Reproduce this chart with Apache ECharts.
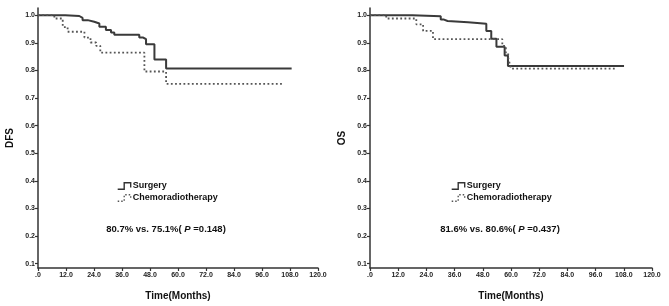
<!DOCTYPE html>
<html>
<head>
<meta charset="utf-8">
<script src="https://cdn.jsdelivr.net/npm/echarts@6/dist/echarts.min.js"></script>
<style>
  html, body { margin: 0; padding: 0; background: #fff; }
  #main { width: 669px; height: 306px; }
</style>
</head>
<body>
<div id="main"></div>
<script>
// tick values on the survival axis
const yTicks = [0.1, 0.2, 0.3, 0.4, 0.5, 0.6, 0.7, 0.8, 0.9, 1.0]
const seriesNames = ['Surgery', 'Chemoradiotherapy']

// DFS (months, cumulative survival)
const dfsSurgeryT = [0, 11.7, 17.7, 19.1, 21.3, 24.1, 26.3, 29.1, 31.3, 32.7, 43.4, 45.1, 46.3, 49.9, 54.9, 108.7]
const dfsSurgeryS = [1, 0.997, 0.990, 0.982, 0.976, 0.970, 0.958, 0.946, 0.937, 0.929, 0.919, 0.913, 0.895, 0.839, 0.807, 0.807]
const dfsChemoT = [0, 7.0, 10.6, 12.7, 19.9, 22.5, 24.9, 26.7, 45.6, 54.9, 105.1]
const dfsChemoS = [1, 0.988, 0.957, 0.940, 0.919, 0.901, 0.889, 0.864, 0.796, 0.751, 0.751]

// OS
const osSurgeryT = [0, 18.0, 30.1, 31.5, 33.0, 41.7, 49.5, 51.6, 53.8, 57.3, 58.7, 108.1]
const osSurgeryS = [1, 0.996, 0.984, 0.979, 0.974, 0.969, 0.943, 0.915, 0.886, 0.854, 0.816, 0.816]
const osChemoT = [0, 6.9, 19.7, 22.6, 26.8, 56.3, 57.8, 58.8, 59.4, 60.0, 105.0]
const osChemoS = [1, 0.988, 0.967, 0.943, 0.913, 0.889, 0.865, 0.845, 0.826, 0.806, 0.806]

const dfsNote = '80.7% vs. 75.1%( {i|P} =0.148)'
const osNote = '81.6% vs. 80.6%( {i|P} =0.437)'

const font = "'Liberation Sans', Arial, sans-serif"
const ink = '#333'

function pairs(t, s) {
  return t.map((v, i) => [v, s[i]])
}

function xAxisOpt(idx) {
  return {
    type: 'value',
    gridIndex: idx,
    min: 0,
    max: 120,
    interval: 12,
    name: 'Time(Months)',
    nameLocation: 'middle',
    nameGap: 23,
    nameTextStyle: { color: '#111', fontWeight: 'bold', fontSize: 10, fontFamily: font },
    axisLine: { lineStyle: { color: ink, width: 1.5 } },
    axisTick: { length: 3, lineStyle: { color: ink, width: 1.2 } },
    axisLabel: {
      color: '#222',
      fontSize: 7,
      fontWeight: 'bold',
      fontFamily: font,
      margin: 4,
      formatter: v => (v === 0 ? '.0' : v.toFixed(1))
    },
    splitLine: { show: false }
  }
}

function yAxisOpt(idx, name) {
  return {
    type: 'value',
    gridIndex: idx,
    min: 0.084,
    max: 1.026,
    name: name,
    nameLocation: 'middle',
    nameGap: 23,
    nameRotate: 90,
    nameTextStyle: { color: '#111', fontWeight: 'bold', fontSize: 10, fontFamily: font },
    axisLine: { show: true, lineStyle: { color: ink, width: 1.5 } },
    axisTick: { show: true, length: 3, customValues: yTicks, lineStyle: { color: ink, width: 1.2 } },
    axisLabel: {
      color: '#222',
      fontSize: 7,
      fontWeight: 'bold',
      fontFamily: font,
      margin: 3,
      customValues: yTicks,
      formatter: v => v.toFixed(1)
    },
    splitLine: { show: false }
  }
}

function kmSeries(name, idx, data, dotted) {
  return {
    name: name,
    type: 'line',
    step: 'end',
    xAxisIndex: idx,
    yAxisIndex: idx,
    symbol: 'none',
    animation: false,
    lineStyle: dotted
      ? { color: '#555', width: 1.8, type: [1.8, 2.4] }
      : { color: '#3a3a3a', width: 2 },
    data: data
  }
}

const stepIcon = 'path://M0,8L7,8L7,1L14,1L14,6'

function legendOpt(left) {
  return {
    left: left,
    top: 181,
    orient: 'vertical',
    padding: 0,
    itemWidth: 13,
    itemHeight: 7,
    itemGap: 2,
    selectedMode: false,
    textStyle: { color: '#111', fontWeight: 'bold', fontSize: 9, fontFamily: font, lineHeight: 10, padding: [0, 0, 0, -3] },
    data: [
      { name: seriesNames[0], icon: stepIcon, itemStyle: { color: 'rgba(0,0,0,0)', borderColor: '#333', borderWidth: 1.4 } },
      { name: seriesNames[1], icon: stepIcon, itemStyle: { color: 'rgba(0,0,0,0)', borderColor: '#555', borderWidth: 1.4, borderType: [1.5, 2] } }
    ]
  }
}

function noteText(x, text) {
  return {
    type: 'text',
    x: x,
    y: 229,
    style: {
      text: text,
      fill: '#111',
      font: 'bold 9.5px ' + font,
      align: 'center',
      verticalAlign: 'middle',
      rich: { i: { fontStyle: 'italic', fontWeight: 'bold', fontSize: 9.5, fontFamily: font, fill: '#111' } }
    }
  }
}

const chart = echarts.init(document.getElementById('main'))
chart.setOption({
  animation: false,
  backgroundColor: '#fff',
  grid: [
    { left: 38, width: 280, top: 8, bottom: 35 },
    { left: 370, width: 282, top: 8, bottom: 35 }
  ],
  xAxis: [xAxisOpt(0), xAxisOpt(1)],
  yAxis: [yAxisOpt(0, 'DFS'), yAxisOpt(1, 'OS')],
  legend: [legendOpt(117), legendOpt(451)],
  series: [
    kmSeries(seriesNames[0], 0, pairs(dfsSurgeryT, dfsSurgeryS), false),
    kmSeries(seriesNames[1], 0, pairs(dfsChemoT, dfsChemoS), true),
    kmSeries(seriesNames[0], 1, pairs(osSurgeryT, osSurgeryS), false),
    kmSeries(seriesNames[1], 1, pairs(osChemoT, osChemoS), true)
  ],
  graphic: [noteText(166, dfsNote), noteText(500, osNote)]
})
</script>
</body>
</html>
